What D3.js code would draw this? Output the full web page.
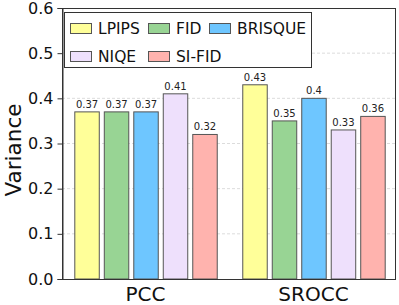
<!DOCTYPE html>
<html><head><meta charset="utf-8">
<script src="https://cdn.jsdelivr.net/npm/d3@7"></script>
<style>body{margin:0;background:#fff}svg{display:block}</style>
</head><body><svg id="c" width="399" height="305"></svg>
<script>
const categories = ["PCC", "SROCC"];
const series = ["LPIPS", "FID", "BRISQUE", "NIQE", "SI-FID"];
const colors = ["#ffff99", "#98d494", "#6ec6ff", "#eee0fc", "#ffb3ae"];
const pccValues = [0.37, 0.37, 0.37, 0.41, 0.32];
const sroccValues = [0.43, 0.35, 0.40, 0.33, 0.36];
const valueLabels = [["0.37","0.37","0.37","0.41","0.32"],["0.43","0.35","0.4","0.33","0.36"]];
const yTicks = [0.0, 0.1, 0.2, 0.3, 0.4, 0.5, 0.6];

const values = [pccValues, sroccValues];
const font = "DejaVu Sans, sans-serif";
const svg = d3.select("#c");
const L = 62, R = 396, T = 8, B = 279;

const y = d3.scaleLinear().domain([0, 0.6]).range([B, T]);
const x0 = d3.scaleBand().domain(categories).range([74.3, 384.7]).paddingInner(0.152).paddingOuter(0);
const x1 = d3.scaleBand().domain(series).range([0, x0.bandwidth()]).paddingInner(0.17).paddingOuter(0);

// grid
svg.append("g").selectAll("line").data(yTicks.filter(t => t > 0 && t < 0.6)).join("line")
  .attr("x1", L).attr("x2", R).attr("y1", d => y(d)).attr("y2", d => y(d))
  .attr("stroke", "#dcdcdc").attr("stroke-width", 1).attr("stroke-dasharray", "3,2");

// bars
const g = svg.append("g");
categories.forEach((c, ci) => {
  series.forEach((s, si) => {
    const v = values[ci][si];
    g.append("rect")
      .attr("x", x0(c) + x1(s) + 0.5).attr("y", y(v))
      .attr("width", x1.bandwidth()).attr("height", y(0) - y(v))
      .attr("fill", colors[si]).attr("stroke", "#555").attr("stroke-width", 1);
    g.append("text")
      .attr("x", x0(c) + x1(s) + x1.bandwidth() / 2 + 0.5).attr("y", y(v) - 4)
      .attr("text-anchor", "middle").attr("font-family", font).attr("font-size", 10)
      .attr("fill", "#222").text(valueLabels[ci][si]);
  });
});

// frame
svg.append("rect").attr("x", L + 0.5).attr("y", T + 0.5).attr("width", R - L - 1).attr("height", B - T)
  .attr("fill", "none").attr("stroke", "#333").attr("stroke-width", 1);

// y axis
const yAxis = d3.axisLeft(y).tickValues(yTicks).tickFormat(d3.format(".1f")).tickSize(5).tickPadding(4);
const ya = svg.append("g").attr("transform", `translate(${L + 0.5},0)`).call(yAxis);
ya.select(".domain").attr("stroke", "#333");
ya.selectAll(".tick line").attr("stroke", "#333");
ya.selectAll("text").attr("font-family", font).attr("font-size", 16).attr("fill", "#111");

// x labels
const xAxis = d3.axisBottom(x0).tickSize(0).tickPadding(8);
const xa = svg.append("g").attr("transform", `translate(0,${B})`).call(xAxis);
xa.select(".domain").remove();
xa.selectAll("text").attr("font-family", font).attr("font-size", 20).attr("fill", "#111");

// y label
svg.append("text").attr("transform", `translate(20.5,150) rotate(-90)`)
  .attr("text-anchor", "middle").attr("font-family", font).attr("font-size", 21.5).attr("fill", "#111").text("Variance");

// legend
const lg = svg.append("g");
lg.append("rect").attr("x", 64.5).attr("y", 12.5).attr("width", 247).attr("height", 55)
  .attr("fill", "#fff").attr("stroke", "#333").attr("stroke-width", 1);
const legPos = [[70, 28], [148, 28], [209, 28], [70, 56], [148, 56]];
series.forEach((s, i) => {
  const [lx, ly] = legPos[i];
  lg.append("rect").attr("x", lx + 0.5).attr("y", ly - 5 + 0.5).attr("width", 21).attr("height", 10)
    .attr("fill", colors[i]).attr("stroke", "#555").attr("stroke-width", 1);
  lg.append("text").attr("x", lx + 28).attr("y", ly + 6).attr("font-family", font).attr("font-size", 15.5)
    .attr("fill", "#111").text(s);
});
</script></body></html>
